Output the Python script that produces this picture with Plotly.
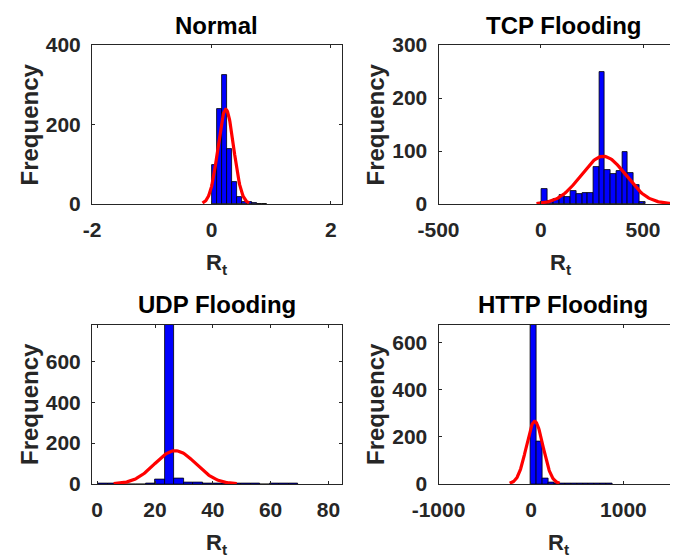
import numpy as np
import plotly.graph_objects as go

# ---------------- data ----------------
titles = ["Normal", "TCP Flooding", "UDP Flooding", "HTTP Flooding"]

normal_bin_start = 0.017
normal_bin_width = 0.0837
normal_counts = [98, 238, 324, 138, 56, 18, 6, 4, 2, 1, 1]
normal_fit = {"mu": 0.24, "sigma": 0.13, "peak": 238}

tcp_bin_start = 6
tcp_bin_width = 28
tcp_counts = [28, 6, 9, 17, 14, 25, 18, 21, 21, 70, 250, 64, 57, 63, 99, 58, 36, 4]
tcp_fit = {"mu": 306, "sigma": 109, "peak": 90}

udp_bin_start = 0.3
udp_bin_width = 3.3
udp_counts = [2, 1, 0, 0, 0, 1, 20, 810, 26, 5, 8, 3, 2, 1, 1, 1, 1, 0, 1, 2, 1]
udp_fit = {"mu": 27, "sigma": 7.1, "peak": 163}

http_bin_start = -3
http_bin_width = 63
http_counts = [735, 180, 24, 5, 3, 2, 2, 1, 1, 1, 1, 1, 1, 1]
http_fit = {"mu": 40, "sigma": 90, "peak": 266}

x_ranges = [[-2, 2.18], [-500, 671], [-1.8, 84.6], [-1000, 1590]]
y_ranges = [[0, 400], [0, 300], [0, 780], [0, 678]]
x_ticks = [[-2, 0, 2], [-500, 0, 500], [0, 20, 40, 60, 80], [-1000, 0, 1000]]
y_ticks = [[0, 200, 400], [0, 100, 200, 300], [0, 200, 400, 600], [0, 200, 400, 600]]
x_label = "R<sub>t</sub>"
y_label = "Frequency"

hists = [
    (normal_bin_start, normal_bin_width, normal_counts, normal_fit),
    (tcp_bin_start, tcp_bin_width, tcp_counts, tcp_fit),
    (udp_bin_start, udp_bin_width, udp_counts, udp_fit),
    (http_bin_start, http_bin_width, http_counts, http_fit),
]

# ---------------- layout geometry ----------------
# The page body has an 8px margin, so the figure is drawn 8px in from the
# window's top-left; page pixel positions below are converted accordingly.
OFF = 8
PAGE_W, PAGE_H = 678, 560
W, H = PAGE_W - OFF, PAGE_H - OFF

# plot-area boxes in page px: (left, right, top, bottom)
boxes = [(92, 341.7, 45, 204), (438.5, 678, 45, 204),
         (92, 341.7, 324.5, 484), (438.5, 678, 324.5, 484)]
title_pos = [(216.8, 25), (564, 25), (216.5, 305), (563, 305)]
ylab_pos = [(29, 124.5), (375, 124.5), (29, 404), (375, 404)]
xlab_pos = [(216, 264), (560, 264), (216, 544), (558, 544)]


def px(x):
    return (x - OFF) / W


def py(y):
    return 1 - (y - OFF) / H


FONT = "Liberation Sans"
AXC = "#262626"

fig = go.Figure()
layout = dict(
    width=W, height=H, margin=dict(l=0, r=0, t=0, b=0, autoexpand=False),
    paper_bgcolor="white", plot_bgcolor="white",
    showlegend=False, bargap=0, barmode="overlay",
    font=dict(family=FONT, color=AXC),
)
annotations = []

for i, (start, width, counts, fit) in enumerate(hists):
    n = i + 1
    xa = "x" if n == 1 else f"x{n}"
    ya = "y" if n == 1 else f"y{n}"
    counts = np.array(counts, dtype=float)
    centers = start + width * (np.arange(len(counts)) + 0.5)
    fig.add_trace(go.Bar(
        x=centers, y=counts, width=width,
        marker=dict(color="#0000FF", line=dict(color="black", width=0.8)),
        xaxis=xa, yaxis=ya, hoverinfo="x+y",
    ))
    mu, sg, pk = fit["mu"], fit["sigma"], fit["peak"]
    xs = np.linspace(mu - 3 * sg, mu + 3 * sg, 120)
    ys = pk * np.exp(-0.5 * ((xs - mu) / sg) ** 2)
    fig.add_trace(go.Scatter(
        x=xs, y=ys, mode="lines", line=dict(color="#FF0000", width=3.2),
        xaxis=xa, yaxis=ya,
    ))

    l, r, t, b = boxes[i]
    right_col = (i % 2 == 1)
    xkey = "xaxis" if n == 1 else f"xaxis{n}"
    ykey = "yaxis" if n == 1 else f"yaxis{n}"
    layout[xkey] = dict(
        domain=[px(l), min(px(r), 1.0)], range=x_ranges[i], anchor=ya,
        tickvals=x_ticks[i], ticktext=[str(v) for v in x_ticks[i]],
        ticks="inside", ticklen=3, tickcolor=AXC, tickwidth=1,
        showline=True, linecolor=AXC, linewidth=1, mirror="allticks",
        showgrid=False, zeroline=False, fixedrange=True, automargin=False,
        tickfont=dict(family=FONT, size=21, color=AXC, weight="bold"),
        ticklabelstandoff=7,
    )
    layout[ykey] = dict(
        domain=[py(b), py(t)], range=y_ranges[i], anchor=xa,
        tickvals=y_ticks[i], ticktext=[str(v) for v in y_ticks[i]],
        ticks="inside", ticklen=3, tickcolor=AXC, tickwidth=1,
        showline=True, linecolor=AXC, linewidth=1,
        mirror=False if right_col else "allticks",
        showgrid=False, zeroline=False, fixedrange=True, automargin=False,
        tickfont=dict(family=FONT, size=21, color=AXC, weight="bold"),
        ticklabelstandoff=6,
    )

    tx, ty = title_pos[i]
    annotations.append(dict(
        text=titles[i], x=px(tx), y=py(ty), xref="paper", yref="paper",
        xanchor="center", yanchor="middle", showarrow=False,
        font=dict(family=FONT, size=24, color="black", weight="bold"),
    ))
    lx, lyy = ylab_pos[i]
    annotations.append(dict(
        text=y_label, x=px(lx), y=py(lyy), xref="paper", yref="paper",
        xanchor="center", yanchor="middle", showarrow=False, textangle=-90,
        font=dict(family=FONT, size=24, color=AXC, weight="bold"),
    ))
    xx, xy = xlab_pos[i]
    annotations.append(dict(
        text=x_label, x=px(xx), y=py(xy), xref="paper", yref="paper",
        xanchor="center", yanchor="middle", showarrow=False,
        font=dict(family=FONT, size=22, color=AXC, weight="bold"),
    ))

layout["annotations"] = annotations
fig.update_layout(**layout)
fig.write_html("out.html")
